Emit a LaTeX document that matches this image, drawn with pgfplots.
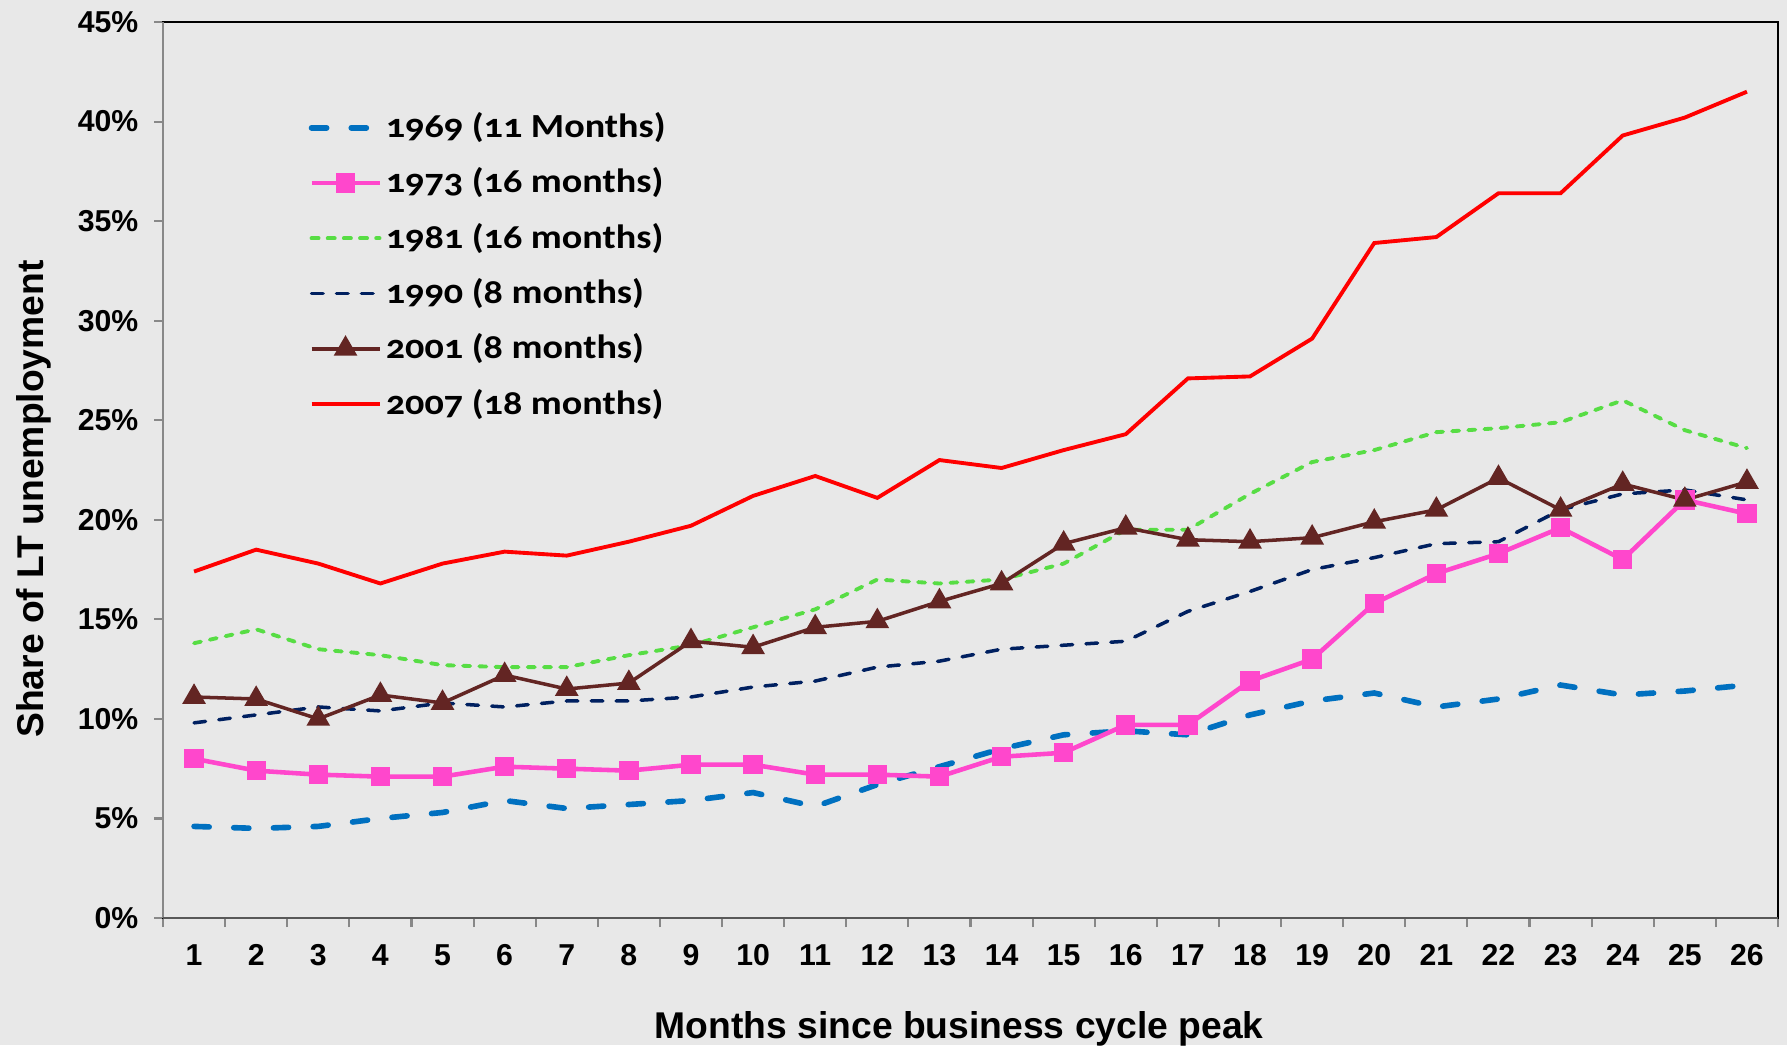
\documentclass[border=0pt]{standalone}
\usepackage{fontspec}
\setmainfont{Liberation Sans}
\newfontfamily\legfont[Numbers=OldStyle, FakeStretch=1.13]{Carlito}
\usepackage{pgfplots}
\usepackage{pgfplotstable}
\pgfplotsset{compat=1.18}
\definecolor{bg}{HTML}{E8E8E8}
\definecolor{c69}{HTML}{0070C0}
\definecolor{c73}{HTML}{FF47CC}
\definecolor{c81}{HTML}{57DD44}
\definecolor{c90}{HTML}{002060}
\definecolor{c01}{HTML}{632523}
\definecolor{c07}{HTML}{FF0000}
\definecolor{axl}{HTML}{888888}
\definecolor{axb}{HTML}{595959}
\pgfplotstableread{
m s69 s73 s81 s90 s01 s07
1 4.6 8.0 13.8 9.8 11.1 17.4
2 4.5 7.4 14.5 10.2 11.0 18.5
3 4.6 7.2 13.5 10.6 10.0 17.8
4 5.0 7.1 13.2 10.4 11.2 16.8
5 5.3 7.1 12.7 10.8 10.8 17.8
6 5.9 7.6 12.6 10.6 12.2 18.4
7 5.5 7.5 12.6 10.9 11.5 18.2
8 5.7 7.4 13.2 10.9 11.8 18.9
9 5.9 7.7 13.7 11.1 13.9 19.7
10 6.3 7.7 14.6 11.6 13.6 21.2
11 5.6 7.2 15.5 11.9 14.6 22.2
12 6.7 7.2 17.0 12.6 14.9 21.1
13 7.6 7.1 16.8 12.9 15.9 23.0
14 8.5 8.1 17.0 13.5 16.8 22.6
15 9.2 8.3 17.8 13.7 18.8 23.5
16 9.4 9.7 19.5 13.9 19.6 24.3
17 9.2 9.7 19.5 15.4 19.0 27.1
18 10.2 11.9 21.3 16.4 18.9 27.2
19 10.9 13.0 22.9 17.5 19.1 29.1
20 11.3 15.8 23.5 18.1 19.9 33.9
21 10.6 17.3 24.4 18.8 20.5 34.2
22 11.0 18.3 24.6 18.9 22.1 36.4
23 11.7 19.6 24.9 20.5 20.5 36.4
24 11.2 18.0 26.0 21.3 21.8 39.3
25 11.4 21.0 24.5 21.5 21.0 40.2
26 11.7 20.3 23.6 21.0 21.9 41.5
}\data
\begin{document}
\begin{tikzpicture}
\path[use as bounding box, fill=bg] (-1.63cm,-1.27cm) rectangle (16.24cm,9.18cm);
\begin{axis}[
  at={(0,0)}, anchor=south west,
  scale only axis, width=16.15cm, height=8.96cm,
  xmin=0.5, xmax=26.5, ymin=0, ymax=45,
  clip=false,
  axis line style={black, line width=0.5pt},
  tick pos=left, tick align=outside,
  xtick={1,...,26}, major x tick style={draw=none},
  minor xtick={0.5,1.5,...,26.5},
  minor tick length=2.6pt,
  ytick={0,5,...,45}, major tick length=2.5pt,
  tick style={color=axl, line width=0.6pt},
  /pgf/number format/assume math mode=true,
  ticklabel style={font=\fontsize{8.6}{10}\selectfont\bfseries},
  xticklabel style={yshift=-1.5pt},
  yticklabel style={xshift=-1pt},
  yticklabel={\pgfmathprintnumber{\tick}\%},
  xlabel={Months since business cycle peak},
  ylabel={Share of LT unemployment},
  xlabel style={font=\fontsize{10.6}{12}\selectfont\bfseries, at={(axis description cs:0.493,0)}, anchor=base, yshift=-34.4pt},
  ylabel style={font=\fontsize{10.6}{12}\selectfont\bfseries, at={(axis description cs:-0.0743,0.4676)}, anchor=base},
  legend style={draw=none, fill=none, inner sep=0pt, at={(0.0898,0.7277)}, anchor=west,
    font=\legfont\bfseries\fontsize{9.6}{11}\selectfont, row sep=5.1pt,
    nodes={inner sep=1pt}},
  legend cell align=left,
  legend image code/.code={\draw[mark repeat=2,mark phase=2,#1] plot coordinates {(0cm,0cm) (0.34cm,0cm) (0.68cm,0cm)};},
]
\addplot[c69, line width=1.6pt, line cap=round, dash pattern=on 4.3pt off 7pt] table[x=m,y=s69] {\data};
\addlegendentry{1969 (11 Months)}
\addplot[c73, line width=1.3pt, mark=square*, mark size=2.1pt, mark options={solid}] table[x=m,y=s73] {\data};
\addlegendentry{1973 (16 months)}
\addplot[c81, line width=1.1pt, line cap=round, dash pattern=on 2pt off 2.6pt] table[x=m,y=s81] {\data};
\addlegendentry{1981 (16 months)}
\addplot[c90, line width=1pt, line cap=round, dash pattern=on 3.3pt off 3.8pt] table[x=m,y=s90] {\data};
\addlegendentry{1990 (8 months)}
\addplot[c01, line width=1pt, mark=triangle*, mark size=2.9pt, mark options={solid}] table[x=m,y=s01] {\data};
\addlegendentry{2001 (8 months)}
\addplot[c07, line width=1.1pt] table[x=m,y=s07] {\data};
\addlegendentry{2007 (18 months)}
\draw[axl, line width=0.6pt] (rel axis cs:0,0) -- (rel axis cs:0,1);
\draw[axb, line width=0.6pt] (rel axis cs:0,0) -- (rel axis cs:1,0);
\end{axis}
\end{tikzpicture}
\end{document}
